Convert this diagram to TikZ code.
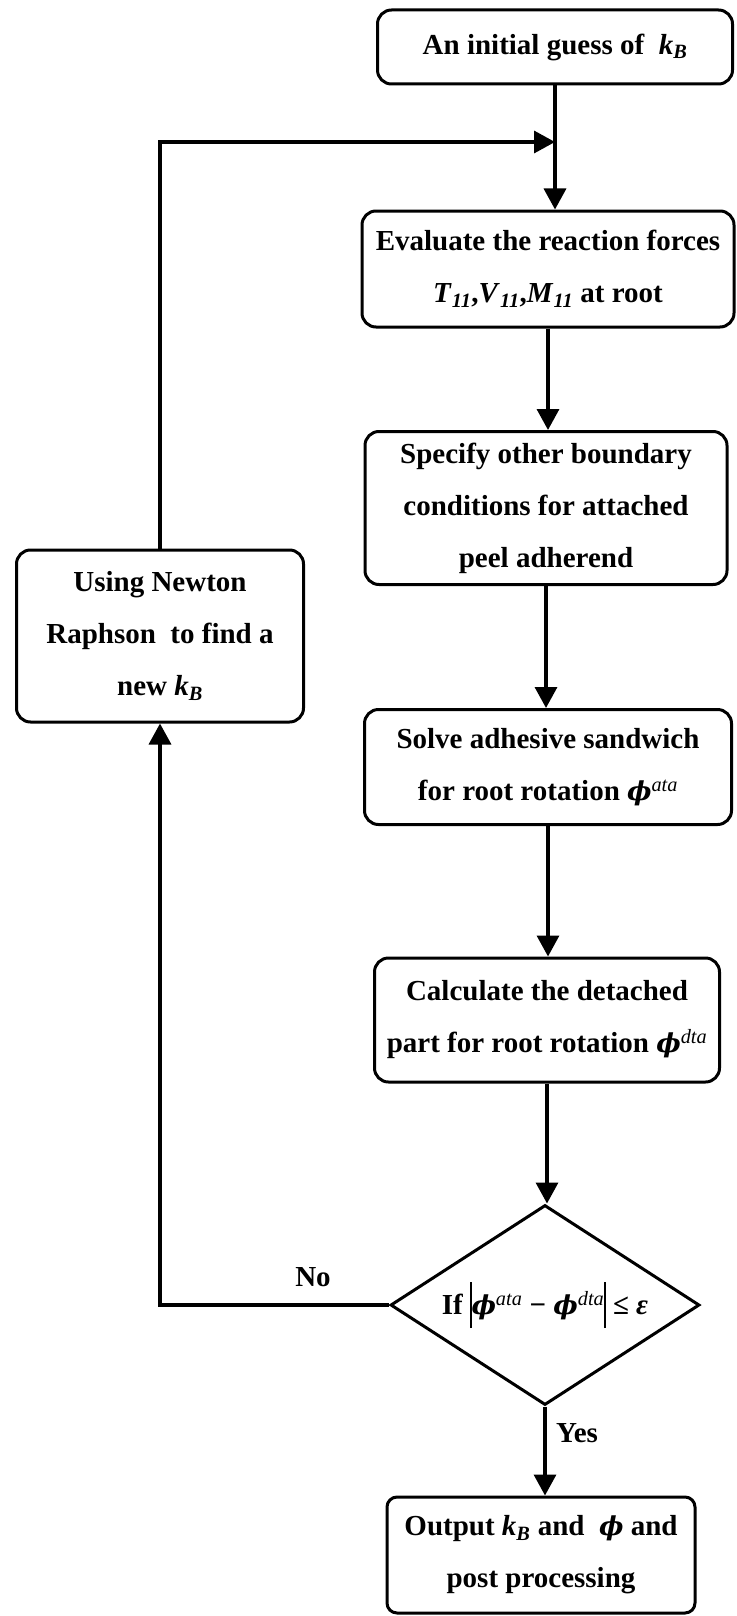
\documentclass[tikz,border=0pt]{standalone}
\usepackage{fontspec}
\setmainfont{Liberation Serif}
\newfontfamily\grkfont{DejaVu Serif}
\usetikzlibrary{shapes.geometric,arrows.meta,positioning,calc}

\newcommand{\kB}{\textit{k}\textsubscript{\textit{B}}}
\newcommand{\bphi}{{\grkfont\bfseries\itshape\fontsize{26}{30}\selectfont ϕ}}
\newcommand{\phisup}[1]{\bphi\textsuperscript{\mdseries\itshape #1}}
\newcommand{\absbar}{\rule[-0.47em]{1.4pt}{1.6em}}

\tikzset{
  flowbox/.style={draw, line width=3pt, rounded corners=14pt, align=center,
    inner sep=0pt, font=\fontsize{29}{52}\selectfont\bfseries},
  decide/.style={draw, diamond, aspect=1.545, line width=3pt, inner sep=0pt,
    minimum width=309pt, minimum height=200pt, font=\fontsize{29}{34}\selectfont\bfseries},
  flow/.style={line width=3.4pt, -{Triangle[length=21pt,width=22pt]}},
  lbl/.style={font=\fontsize{29}{34}\selectfont\bfseries, inner sep=0pt},
}

\begin{document}
\begin{tikzpicture}[x=1pt, y=-1pt]
    \useasboundingbox (0,0) rectangle (736,1616);

    % right column
    \node[flowbox, minimum width=355pt, minimum height=74pt] (init) at (555,47) {An initial guess of \ \kB};
    \node[flowbox, minimum width=372pt, minimum height=116pt] (eval) at (548,269)
        {Evaluate the reaction forces\\ \textit{T}\textsubscript{\textit{11}},\textit{V}\textsubscript{\textit{11}},\textit{M}\textsubscript{\textit{11}} at root};
    \node[flowbox, minimum width=362pt, minimum height=153pt] (spec) at (546,508)
        {Specify other boundary\\ conditions for attached\\ peel adherend};
    \node[flowbox, minimum width=367pt, minimum height=115pt] (solve) at (548,767)
        {Solve adhesive sandwich\\ for root rotation \phisup{ata}};
    \node[flowbox, minimum width=345pt, minimum height=124pt] (calc) at (547,1020)
        {Calculate the detached\\ part for root rotation \phisup{dta}};
    \node[decide] (dec) at (545,1305)
        {If \absbar\phisup{ata}\ − \phisup{dta}\absbar\ ≤ \textit{ε}};
    \node[flowbox, rounded corners=10pt, minimum width=308pt, minimum height=116pt] (out) at (541,1555)
        {Output \kB\ and \ \bphi\ and\\ post processing};

    % left column
    \node[flowbox, minimum width=287pt, minimum height=172pt] (newton) at (160,636)
        {Using Newton\\ Raphson \ to find a\\ new \kB};

    \coordinate (merge) at (555,142);

    % connectors
    \draw[flow] (init.south) -- (init.south |- eval.north);
    \draw[flow] (eval.south) -- (eval.south |- spec.north);
    \draw[flow] (spec.south) -- (spec.south |- solve.north);
    \draw[flow] (solve.south) -- (solve.south |- calc.north);
    \draw[flow] (calc.south) -- (calc.south |- dec.north);
    \draw[flow] (dec.south) -- (dec.south |- out.north);
    \draw[flow] (dec.west) -| (newton.south);
    \draw[flow] (newton.north) |- (merge);

    \node[lbl] (nolbl) at (313,1277) {No};
    \node[lbl] (yeslbl) at (577,1433) {Yes};
\end{tikzpicture}
\end{document}
